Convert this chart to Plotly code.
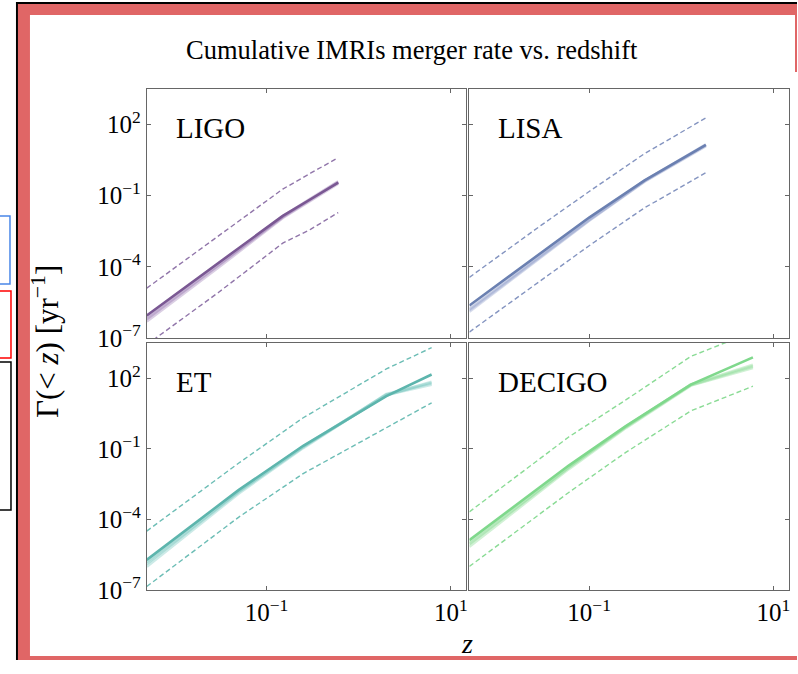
import plotly.graph_objects as go

W, H = 798, 674
H_EFF = 660  # the photographed figure comes out vertically compressed to this height

# ---------------- data ----------------
detectors = ["LIGO", "LISA", "ET", "DECIGO"]

z_ligo = [0.005, 0.03, 0.15, 0.3, 0.6]
rate_ligo = [8.9e-7, 1.45e-4, 1.41e-2, 7.1e-2, 0.36]
rate_ligo_v1 = [6.3e-7, 1.12e-4, 1.26e-2, 6.8e-2, 0.38]
rate_ligo_v2 = [5.0e-7, 9.5e-5, 1.17e-2, 6.3e-2, 0.33]
rate_ligo_v3 = [7.1e-7, 1.26e-4, 1.32e-2, 7.4e-2, 0.40]
upper_ligo = [1.26e-5, 2.0e-3, 0.19, 0.89, 4.0]
lower_ligo = [5.2e-8, 8.3e-6, 1.0e-3, 3.8e-3, 1.95e-2]

z_lisa = [0.005, 0.03, 0.1, 0.4, 1.85]
rate_lisa = [2.34e-6, 3.8e-4, 1.2e-2, 0.44, 13.8]
rate_lisa_v1 = [1.7e-6, 3.0e-4, 1.0e-2, 0.42, 13.2]
rate_lisa_v2 = [1.3e-6, 2.5e-4, 9.0e-3, 0.40, 12.6]
rate_lisa_v3 = [1.5e-6, 2.7e-4, 9.5e-3, 0.43, 14.5]
upper_lisa = [3.6e-5, 5.6e-3, 0.15, 6.0, 190]
lower_lisa = [1.78e-7, 2.75e-5, 7.8e-4, 3.1e-2, 0.93]

z_et = [0.005, 0.05, 0.25, 2.0, 6.2]
rate_et = [1.9e-6, 1.8e-3, 0.135, 17.4, 145]
rate_et_v1 = [1.3e-6, 1.5e-3, 0.12, 20.0, 54]
rate_et_v2 = [1.0e-6, 1.3e-3, 0.11, 21.0, 63]
rate_et_v3 = [1.5e-6, 1.6e-3, 0.125, 19.0, 70]
upper_et = [3.2e-5, 2.5e-2, 2.1, 250, 2000]
lower_et = [1.4e-7, 1.26e-4, 8.9e-3, 0.8, 9.1]

z_decigo = [0.005, 0.06, 0.25, 1.27, 6.0]
rate_decigo = [1.32e-5, 1.95e-2, 0.93, 53.7, 776]
rate_decigo_v1 = [8.9e-6, 1.6e-2, 0.85, 52.0, 324]
rate_decigo_v2 = [7.0e-6, 1.4e-2, 0.78, 50.0, 280]
rate_decigo_v3 = [1.0e-5, 1.7e-2, 0.88, 54.0, 370]
upper_decigo = [2.1e-4, 0.32, 12.0, 851, 9500]
lower_decigo = [1.0e-6, 1.4e-3, 7.1e-2, 4.1, 46]

x_tickvals = [0.1, 10]
x_ticktext = ["10<sup>−1</sup>", "10<sup>1</sup>"]
y_tickvals = [1e-7, 1e-4, 1e-1, 1e2]
y_ticktext = ["10<sup>−7</sup>", "10<sup>−4</sup>", "10<sup>−1</sup>", "10<sup>2</sup>"]

title_text = "Cumulative IMRIs merger rate vs. redshift"
ytitle_text = "Γ(&lt; <i>z</i>) [yr<sup>−1</sup>]"
xtitle_text = "<i>z</i>"

# ---------------- styling ----------------
colors = {"LIGO": "#7a5893", "LISA": "#6b80b1", "ET": "#5db5ad", "DECIGO": "#7fd88c"}
dash_colors = {"LIGO": "#9176aa", "LISA": "#8494c0", "ET": "#6cbdb5", "DECIGO": "#8adb95"}
faint = {"LIGO": "rgba(150,115,175,0.35)", "LISA": "rgba(140,155,200,0.35)",
         "ET": "rgba(110,195,185,0.35)", "DECIGO": "rgba(140,220,150,0.4)"}

panels = {
    "LIGO": (z_ligo, rate_ligo, [rate_ligo_v1, rate_ligo_v2, rate_ligo_v3], upper_ligo, lower_ligo),
    "LISA": (z_lisa, rate_lisa, [rate_lisa_v1, rate_lisa_v2, rate_lisa_v3], upper_lisa, lower_lisa),
    "ET": (z_et, rate_et, [rate_et_v1, rate_et_v2, rate_et_v3], upper_et, lower_et),
    "DECIGO": (z_decigo, rate_decigo, [rate_decigo_v1, rate_decigo_v2, rate_decigo_v3], upper_decigo, lower_decigo),
}

def px(x):
    return min(max(x, 0), W) / W

def py(y):
    return 1 - min(max(y, 0), H_EFF) / H_EFF

# panel pixel boxes (left, top, right, bottom)
boxes = {
    "LIGO": (147, 89, 467, 338),
    "LISA": (470, 89, 790, 338),
    "ET": (147, 343, 467, 590),
    "DECIGO": (470, 343, 790, 590),
}

fig = go.Figure()
font_family = "Liberation Serif, DejaVu Serif, serif"

for i, name in enumerate(detectors):
    idx = "" if i == 0 else str(i + 1)
    xa, ya = "x" + idx, "y" + idx
    z, main, variants, up, lo = panels[name]
    for v in variants:
        fig.add_trace(go.Scatter(x=z, y=v, mode="lines", xaxis=xa, yaxis=ya,
                                 line=dict(color=faint[name], width=3), showlegend=False))
    fig.add_trace(go.Scatter(x=z, y=up, mode="lines", xaxis=xa, yaxis=ya,
                             line=dict(color=dash_colors[name], width=1.4, dash="5px,3px"), showlegend=False))
    fig.add_trace(go.Scatter(x=z, y=lo, mode="lines", xaxis=xa, yaxis=ya,
                             line=dict(color=dash_colors[name], width=1.4, dash="5px,3px"), showlegend=False))
    fig.add_trace(go.Scatter(x=z, y=main, mode="lines", xaxis=xa, yaxis=ya,
                             line=dict(color=colors[name], width=2.6), showlegend=False))

    l, t, r, b = boxes[name]
    left_col = name in ("LIGO", "ET")
    bottom_row = name in ("ET", "DECIGO")
    axis_common = dict(type="log", showgrid=False, zeroline=False, showline=True,
                       linecolor="#666666", linewidth=1, mirror="ticks", ticks="inside",
                       ticklen=4, tickcolor="#666666",
                       tickfont=dict(family=font_family, size=25, color="black"))
    fig.layout["xaxis" + idx] = dict(axis_common, domain=[px(l), px(r)], anchor=ya,
                                     range=[-2.30, 1.17], tickvals=x_tickvals, ticktext=x_ticktext,
                                     showticklabels=bottom_row)
    fig.layout["yaxis" + idx] = dict(axis_common, domain=[py(b), py(t)], anchor=xa,
                                     range=[-7, 3.5], tickvals=y_tickvals, ticktext=y_ticktext,
                                     showticklabels=left_col)
    fig.add_annotation(text=name, xref="paper", yref="paper", x=px(l + 27), y=py(t + 39),
                       xanchor="left", yanchor="middle", showarrow=False,
                       font=dict(family=font_family, size=29, color="black"))

fig.add_annotation(text=title_text, xref="paper", yref="paper", x=px(413), y=py(50),
                   xanchor="center", yanchor="middle", showarrow=False,
                   font=dict(family=font_family, size=26.5, color="black"))
fig.add_annotation(text=ytitle_text, xref="paper", yref="paper", x=px(45), y=py(341),
                   xanchor="center", yanchor="middle", showarrow=False, textangle=-90,
                   font=dict(family=font_family, size=31, color="black"))
fig.add_annotation(text=xtitle_text, xref="paper", yref="paper", x=px(468), y=py(643),
                   xanchor="center", yanchor="middle", showarrow=False,
                   font=dict(family=font_family, size=28, color="black"))

red = "#e06666"
P = dict(xref="paper", yref="paper", layer="above")
shapes = [
    # black frame lines
    dict(P, type="rect", x0=px(16), x1=px(18), y0=0, y1=py(2), fillcolor="black", line_width=0),
    dict(P, type="rect", x0=px(16), x1=px(798), y0=py(4), y1=py(2), fillcolor="black", line_width=0),
    # red frame
    dict(P, type="rect", x0=px(18), x1=px(798), y0=py(15), y1=py(4), fillcolor=red, line_width=0),
    dict(P, type="rect", x0=px(18), x1=px(30), y0=0, y1=py(4), fillcolor=red, line_width=0),
    dict(P, type="rect", x0=px(18), x1=px(798), y0=0, y1=py(656), fillcolor=red, line_width=0),
    dict(P, type="rect", x0=px(796), x1=px(798), y0=py(72), y1=py(15), fillcolor=red, line_width=0),
    # side boxes (their left edges sit off-page)
    dict(P, type="path", path="M 0,{a} L {b},{a} L {b},{c} L 0,{c}".format(a=py(216), b=px(10), c=py(284)),
         line=dict(color="#4a86e8", width=1.5)),
    dict(P, type="path", path="M 0,{a} L {b},{a} L {b},{c} L 0,{c}".format(a=py(291), b=px(11), c=py(358)),
         line=dict(color="#ff0000", width=1.5)),
    dict(P, type="path", path="M 0,{a} L {b},{a} L {b},{c} L 0,{c}".format(a=py(362), b=px(11), c=py(510)),
         line=dict(color="black", width=1.5)),
]

fig.update_layout(width=W, height=H, autosize=False,
                  margin=dict(l=0, r=0, t=0, b=0),
                  paper_bgcolor="white", plot_bgcolor="white",
                  shapes=shapes, showlegend=False)

page_fix = ("document.documentElement.style.margin='0px';"
            "document.body.style.margin='0px';")

fig.write_html("out.html", config={"displayModeBar": False, "staticPlot": True},
               post_script=page_fix)
